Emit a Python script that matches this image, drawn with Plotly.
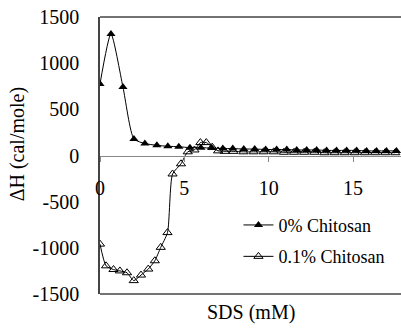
import plotly.graph_objects as go

# Data
sds_0 = [0, 0.65, 1.36, 2.01, 2.66, 3.37, 4.02, 4.67, 5.33, 5.98, 6.63, 7.28, 7.87, 8.52,
         9.17, 9.82, 10.47, 11.07, 11.66, 12.25, 12.84, 13.43, 14.02, 14.62, 15.21, 15.8,
         16.39, 16.98, 17.57]
dh_0 = [775, 1316, 742, 180, 130, 110, 100, 95, 85, 85, 80, 75, 75, 70, 70, 65, 65, 65, 60,
        60, 60, 55, 55, 55, 55, 50, 50, 50, 50]

sds_01 = [0, 0.36, 0.8, 1.18, 1.6, 2.0, 2.43, 2.86, 3.25, 3.6, 4.0, 4.3, 4.8, 5.2, 5.6, 5.95,
          6.3, 6.65, 7.0, 7.4, 7.9, 8.5, 9.1, 9.7, 10.3, 10.9, 11.5, 12.1, 12.7, 13.3, 13.9,
          14.5, 15.1, 15.7, 16.3, 16.9, 17.5]
dh_01 = [-960, -1195, -1235, -1250, -1270, -1355, -1295, -1230, -1140, -995, -835, -200, -90,
         40, 60, 140, 140, 90, 50, 45, 45, 40, 40, 40, 40, 35, 35, 35, 35, 30, 30, 30, 30, 30,
         30, 30, 30]

x_ticks = [0, 5, 10, 15]
y_ticks = [-1500, -1000, -500, 0, 500, 1000, 1500]

FONT = "Liberation Serif"

fig = go.Figure()
fig.add_trace(go.Scatter(
    x=sds_01, y=dh_01, mode="lines+markers", name="0.1% Chitosan",
    line=dict(color="black", width=1, shape="spline", smoothing=0.6),
    marker=dict(symbol="triangle-up-open", size=8, color="black", line=dict(width=1)),
    legendgroup="b", legendrank=2,
))
fig.add_trace(go.Scatter(
    x=sds_0, y=dh_0, mode="lines+markers", name="0% Chitosan",
    line=dict(color="black", width=1, shape="spline", smoothing=0.6),
    marker=dict(symbol="triangle-up", size=8, color="black"),
    legendgroup="a", legendrank=1,
))

fig.update_layout(
    width=401, height=329,
    margin=dict(l=100, r=0, t=17, b=35),
    paper_bgcolor="white", plot_bgcolor="white",
    font=dict(family=FONT, size=20, color="black"),
    showlegend=True,
    legend=dict(x=0.46, y=0.315, xanchor="left", yanchor="top",
                font=dict(size=18, family=FONT), bgcolor="rgba(0,0,0,0)",
                traceorder="grouped", tracegroupgap=5, itemwidth=30),
    xaxis=dict(range=[0, 17.84], anchor="free", position=0.5,
               showline=True, linecolor="#888", linewidth=1,
               ticks="outside", ticklen=5, tickcolor="#888",
               tickvals=x_ticks, ticktext=[str(v) for v in x_ticks],
               ticklabelstandoff=9, showgrid=False, zeroline=False,
               tickfont=dict(size=20, family=FONT), automargin=False),
    yaxis=dict(range=[-1500, 1500], showline=True, linecolor="#444", linewidth=1.5,
               ticks="", tickvals=y_ticks, ticktext=[str(v) for v in y_ticks],
               ticklabelstandoff=15, showgrid=False, zeroline=False,
               tickfont=dict(size=20, family=FONT), automargin=False),
    shapes=[
        dict(type="line", xref="paper", yref="paper", x0=0, x1=1, y0=1, y1=1,
             line=dict(color="#444", width=1.5)),
        dict(type="line", xref="paper", yref="paper", x0=0, x1=1, y0=0, y1=0,
             line=dict(color="#444", width=1.5)),
    ],
    annotations=[
        dict(text="SDS (mM)", xref="paper", yref="paper", x=0.5, y=-0.065,
             xanchor="center", yanchor="middle", showarrow=False,
             font=dict(size=20, family=FONT)),
        dict(text="ΔH (cal/mole)", xref="paper", yref="paper", x=-0.276, y=0.54,
             xanchor="center", yanchor="middle", showarrow=False, textangle=-90,
             font=dict(size=20, family=FONT)),
    ],
)

fig.write_html("out.html", config={"displayModeBar": False},
               post_script="document.body.style.margin='0';document.body.style.padding='0';")
